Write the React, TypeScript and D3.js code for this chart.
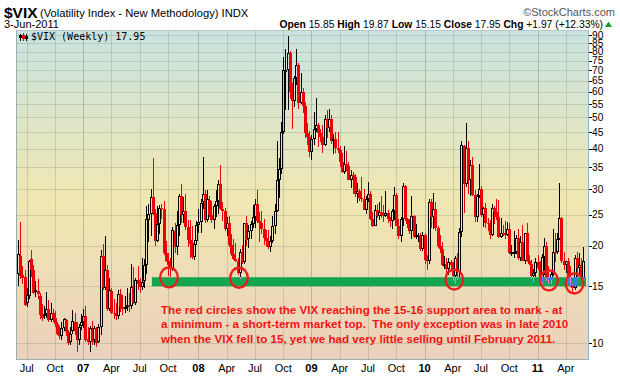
import React from "react";
import * as d3 from "d3";

// Weekly $VIX candles [open, high, low, close], one row per week (weeks start Monday 5-Jun-2006)
const firstWeekMonday = new Date(2006, 5, 5);

const ohlc2006 = [
  [16.4, 20.9, 15.0, 18.9], [18.6, 23.8, 15.8, 16.1], [16.2, 17.3, 15.3, 15.9], [16.0, 16.8, 13.0, 13.1],
  [13.3, 14.8, 12.9, 14.1], [14.0, 18.1, 13.7, 18.0], [18.2, 19.4, 16.0, 16.9], [16.8, 17.4, 14.2, 14.3],
  [14.4, 15.6, 13.9, 14.6], [14.5, 15.8, 13.7, 14.2], [14.0, 14.3, 11.9, 12.2], [12.3, 13.2, 11.7, 12.0],
  [12.1, 13.0, 11.9, 12.3], [12.3, 14.4, 12.0, 12.8], [12.8, 13.6, 11.6, 11.8], [11.8, 13.3, 11.6, 12.4],
  [12.4, 12.8, 11.6, 12.0], [12.0, 12.6, 11.2, 11.5], [11.5, 11.6, 10.6, 10.7], [10.8, 11.3, 10.3, 10.5],
  [10.5, 11.6, 10.2, 11.1], [11.1, 12.0, 10.9, 11.9], [11.8, 11.9, 10.5, 10.8], [10.8, 11.0, 9.9, 10.0],
  [10.1, 11.2, 9.9, 10.7], [10.9, 12.7, 10.7, 11.7], [11.6, 12.4, 10.6, 10.9], [10.9, 11.6, 9.4, 10.2],
  [10.2, 11.5, 9.9, 11.2], [11.3, 12.3, 11.0, 11.6],
];
const ohlc2007 = [
  [11.6, 12.8, 11.1, 12.1], [12.1, 13.0, 10.1, 10.2], [10.3, 11.2, 9.9, 10.1], [10.1, 11.3, 9.4, 11.1],
  [11.0, 11.7, 9.9, 10.1], [10.2, 11.3, 9.9, 11.1], [11.1, 11.2, 9.7, 10.0], [10.1, 11.5, 10.0, 11.2],
  [11.2, 19.4, 10.6, 18.6], [18.6, 20.3, 14.6, 14.9], [14.8, 21.4, 14.6, 16.8], [16.8, 17.4, 12.6, 12.8],
  [12.8, 15.9, 12.6, 14.6], [14.5, 14.8, 12.3, 12.4], [12.4, 13.7, 11.9, 12.3], [12.3, 13.3, 11.8, 12.1],
  [12.1, 14.6, 11.9, 14.2], [14.2, 14.7, 12.5, 12.9], [12.9, 14.1, 12.2, 12.8], [12.8, 14.0, 12.4, 12.9],
  [12.9, 14.8, 12.6, 13.1], [13.1, 14.3, 12.5, 13.0], [13.0, 17.6, 12.8, 14.9], [15.0, 17.2, 13.2, 13.3],
  [13.3, 15.9, 13.1, 15.7], [15.7, 17.3, 14.6, 15.2], [15.2, 15.9, 14.3, 14.9], [14.9, 18.3, 14.6, 15.5],
  [15.6, 18.2, 14.8, 17.5], [17.5, 26.5, 16.4, 24.2], [24.0, 26.9, 20.6, 25.2], [25.2, 30.0, 21.5, 28.3],
  [28.3, 37.5, 25.0, 25.3], [25.3, 26.0, 20.0, 20.7], [20.7, 26.5, 20.5, 23.4], [23.4, 26.7, 21.8, 26.2],
  [26.2, 27.0, 24.3, 26.0], [26.0, 27.5, 18.7, 19.0], [19.0, 20.7, 17.8, 18.0], [18.0, 19.0, 16.1, 17.5],
  [17.4, 18.3, 15.9, 17.0], [17.0, 22.9, 16.7, 22.4], [22.3, 23.5, 19.0, 19.9], [19.9, 25.7, 18.8, 23.2],
  [23.2, 29.0, 21.5, 28.5], [28.5, 31.1, 23.6, 24.9], [24.9, 28.3, 23.5, 25.6], [25.7, 29.0, 22.4, 22.9],
  [22.9, 24.0, 19.8, 20.9], [20.9, 24.1, 18.4, 20.3], [20.4, 23.0, 18.2, 18.5], [18.5, 20.9, 18.1, 20.3],
];
const ohlc2008 = [
  [20.7, 23.9, 20.2, 23.2], [23.2, 26.0, 22.0, 23.7], [23.7, 28.0, 22.0, 27.2], [27.3, 37.6, 26.0, 29.0],
  [29.0, 29.8, 23.5, 24.0], [24.0, 29.8, 23.8, 28.0], [27.8, 28.5, 24.5, 25.0], [25.0, 27.5, 23.5, 24.1],
  [24.0, 26.9, 22.6, 26.5], [26.5, 29.8, 24.5, 27.5], [27.5, 32.0, 25.2, 31.2], [31.2, 35.6, 25.8, 26.0],
  [26.0, 27.4, 23.9, 25.7], [25.7, 26.2, 22.3, 22.5], [22.5, 24.6, 21.5, 23.5], [23.5, 24.8, 19.9, 20.1],
  [20.1, 21.8, 18.6, 18.9], [18.9, 21.0, 18.1, 18.2], [18.2, 20.4, 17.8, 17.9], [17.9, 18.4, 16.3, 16.5],
  [16.5, 19.5, 15.8, 19.2], [19.2, 20.1, 17.6, 17.8], [17.8, 23.6, 17.6, 23.6], [23.6, 24.8, 20.0, 20.9],
  [21.0, 23.2, 19.7, 22.2], [22.3, 23.9, 21.0, 23.4], [23.4, 26.8, 22.7, 24.6], [24.6, 28.0, 22.7, 27.0],
  [27.0, 29.8, 23.5, 23.9], [23.9, 25.5, 20.5, 23.6], [23.6, 25.7, 21.8, 22.6], [22.6, 24.3, 20.2, 21.2],
  [21.2, 22.4, 19.9, 20.7], [20.7, 22.4, 19.6, 19.8], [19.8, 21.5, 19.1, 20.7], [20.7, 24.7, 20.4, 23.1],
  [23.1, 27.0, 21.8, 25.7], [25.7, 42.2, 25.4, 32.1], [32.1, 37.5, 28.2, 34.7], [34.7, 48.4, 33.3, 45.1],
  [45.1, 76.9, 44.5, 69.9], [69.9, 81.2, 52.7, 70.3], [70.3, 89.5, 52.9, 79.1], [79.0, 80.1, 57.1, 59.9],
  [59.9, 63.9, 46.2, 56.1], [56.1, 67.0, 53.9, 66.3], [66.3, 81.5, 63.1, 72.7], [72.7, 73.9, 53.1, 55.3],
  [55.3, 68.6, 55.0, 59.9], [59.9, 61.7, 51.6, 54.3], [54.3, 56.0, 43.1, 44.9], [44.9, 48.0, 41.1, 43.4],
];
const ohlc2009 = [
  [43.4, 45.5, 37.6, 39.2], [39.2, 44.0, 37.0, 42.8], [42.8, 52.0, 41.0, 46.1], [46.1, 57.4, 45.0, 47.3],
  [47.3, 47.9, 40.5, 44.8], [44.8, 46.2, 42.0, 43.4], [43.4, 47.5, 38.8, 41.2], [41.2, 51.0, 40.7, 49.3],
  [49.3, 52.7, 43.1, 46.4], [46.4, 53.3, 45.0, 49.3], [49.3, 51.0, 41.5, 42.4], [42.4, 44.5, 38.6, 43.0],
  [43.0, 45.0, 38.9, 40.2], [40.2, 45.2, 38.9, 39.7], [39.7, 40.9, 35.0, 36.5], [36.5, 38.7, 33.7, 33.9],
  [34.0, 40.8, 33.5, 35.8], [35.8, 39.3, 34.1, 35.3], [35.3, 36.5, 31.9, 32.1], [32.1, 34.3, 30.3, 33.1],
  [33.1, 33.9, 28.9, 32.6], [32.6, 33.5, 28.4, 28.9], [28.9, 31.3, 27.2, 29.6], [29.6, 30.1, 27.5, 28.2],
  [28.2, 32.6, 27.3, 27.9], [27.9, 30.1, 25.8, 25.9], [25.9, 28.5, 25.2, 27.9], [27.9, 31.5, 27.3, 29.0],
  [29.0, 29.5, 24.1, 24.3], [24.3, 25.5, 22.9, 23.1], [23.1, 26.7, 23.0, 25.9], [25.9, 27.0, 24.4, 24.8],
  [24.8, 27.3, 24.1, 25.4], [25.4, 28.6, 24.4, 25.0], [25.0, 26.7, 23.7, 24.8], [24.8, 29.6, 24.6, 25.3],
  [25.3, 25.8, 23.6, 24.2], [24.2, 24.6, 22.9, 23.9], [23.9, 26.0, 22.6, 25.6], [25.6, 30.4, 24.1, 28.7],
  [28.7, 29.2, 23.0, 23.1], [23.1, 24.2, 21.0, 21.4], [21.4, 24.6, 20.5, 24.2], [24.2, 31.3, 23.1, 30.7],
  [30.7, 30.9, 23.9, 24.2], [24.2, 24.4, 22.7, 23.4], [23.4, 24.3, 21.8, 22.2], [22.2, 28.6, 21.0, 24.7],
  [24.7, 24.9, 21.1, 21.3], [21.3, 23.4, 21.0, 21.6], [21.6, 22.0, 20.6, 21.7], [21.7, 21.9, 19.3, 19.5],
];
const ohlc2010 = [
  [19.5, 22.1, 19.3, 21.7], [21.7, 21.9, 17.6, 18.1], [18.1, 18.8, 16.9, 17.9], [17.9, 28.0, 17.6, 27.3],
  [27.3, 27.9, 22.7, 24.6], [24.6, 29.2, 22.6, 26.1], [26.1, 27.3, 22.2, 22.7], [22.7, 23.1, 19.7, 20.0],
  [20.0, 21.7, 19.0, 19.5], [19.5, 20.6, 17.3, 17.4], [17.4, 18.6, 17.0, 17.6], [17.6, 18.4, 16.4, 17.0],
  [17.0, 18.4, 16.3, 17.8], [17.8, 18.1, 16.8, 17.5], [17.5, 17.8, 15.6, 16.1], [16.1, 18.6, 15.2, 18.4],
  [18.4, 19.0, 15.7, 16.6], [16.6, 22.8, 16.0, 22.1], [22.1, 42.2, 21.3, 41.0], [40.9, 41.0, 25.3, 31.2],
  [31.2, 48.2, 30.4, 40.1], [40.1, 42.2, 29.0, 32.1], [32.1, 36.8, 28.6, 35.5], [35.5, 37.6, 28.6, 28.8],
  [28.8, 29.8, 23.7, 24.6], [24.6, 29.0, 23.8, 28.5], [28.5, 36.0, 28.2, 30.1], [30.1, 30.7, 24.6, 25.0],
  [25.0, 26.4, 22.9, 26.3], [26.3, 27.2, 22.7, 23.5], [23.5, 24.4, 22.3, 23.4], [23.4, 24.0, 21.0, 21.7],
  [21.7, 26.9, 21.4, 26.2], [26.2, 26.6, 23.4, 25.5], [25.5, 28.0, 24.1, 24.5], [24.5, 27.8, 21.2, 21.3],
  [21.3, 24.4, 21.1, 22.0], [22.0, 23.3, 21.5, 21.9], [21.9, 23.9, 21.0, 21.7], [21.7, 23.7, 21.4, 22.5],
  [22.5, 23.6, 18.9, 19.0], [19.0, 20.1, 18.6, 19.1], [19.1, 22.2, 18.4, 19.2], [19.2, 21.6, 18.9, 21.2],
  [21.2, 22.5, 18.1, 18.3], [18.3, 21.5, 17.9, 20.6], [20.6, 23.2, 18.0, 18.0], [18.0, 22.0, 17.6, 22.0],
  [22.0, 23.5, 17.8, 18.0], [18.0, 18.8, 17.4, 17.6], [17.6, 18.1, 15.8, 16.1], [16.1, 17.0, 15.5, 16.5],
  [16.5, 18.3, 15.9, 17.8],
];
const ohlc2011 = [
  [17.8, 18.8, 16.9, 17.1], [17.1, 17.9, 15.4, 15.5], [15.5, 18.9, 15.3, 18.5], [18.5, 21.1, 16.2, 20.0],
  [20.0, 20.5, 15.6, 15.9], [15.9, 17.3, 15.3, 15.7], [15.7, 16.9, 15.3, 16.4], [16.4, 22.6, 16.1, 19.2],
  [19.2, 21.9, 17.8, 19.1], [19.1, 22.0, 18.9, 21.0], [21.0, 31.3, 20.8, 24.4], [24.4, 24.5, 17.7, 17.9],
  [17.9, 19.1, 16.9, 17.4], [17.4, 18.0, 16.5, 17.9], [17.9, 18.3, 15.2, 15.3], [15.3, 17.3, 14.9, 15.1],
  [15.1, 15.3, 14.3, 14.8], [14.8, 18.8, 14.6, 18.4], [18.4, 19.2, 15.9, 17.1], [17.1, 19.0, 16.4, 17.4],
  [17.4, 18.3, 15.8, 16.0], [15.85, 19.87, 15.15, 17.95],
];

const yTicks = [10, 15, 20, 25, 30, 35, 40, 45, 50, 55, 60, 65, 70, 75, 80, 85, 90];
const monthNames = ["Jan", "Feb", "Mar", "Apr", "May", "Jun", "Jul", "Aug", "Sep", "Oct", "Nov", "Dec"];

// Annotations (bar index / VIX level)
const supportLevels = [15, 16];
const supportBars = [61.6, 261.3];
const circleBars = [69.46, 101.66, 200.69, 244.25, 255.98];
const circleLevels = [15.99, 15.94, 15.74, 15.65, 15.3];
const noteLines = [
  "The red circles show the VIX reaching the 15-16 support area to mark - at",
  "a minimum - a short-term market top.  The only exception was in late 2010",
  "when the VIX fell to 15, yet we had very little selling until February 2011.",
];

const W = 620;
const H = 376;
const PL = 16, PR = 588, PT = 30, PB = 359;
const SANS = "'Liberation Sans', Arial, Helvetica, sans-serif";
const RED = "#ee0008";

export default function App() {
  const rows = [...ohlc2006, ...ohlc2007, ...ohlc2008, ...ohlc2009, ...ohlc2010, ...ohlc2011];
  const bars = rows.map((d, i) => ({ i, o: d[0], h: d[1], l: d[2], c: d[3] }));
  const n = bars.length;

  const x = d3.scaleLinear().domain([0, n - 1]).range([18, 583.2]);
  const y = d3.scaleLog().domain([8.93, 93.3]).range([PB, PT]);

  const mondays = bars.map((_, i) => d3.timeDay.offset(firstWeekMonday, 7 * i));
  const qTicks: { i: number; label: string; year: boolean }[] = [];
  for (let i = 1; i < n; i++) {
    const m = mondays[i].getMonth();
    if (m !== mondays[i - 1].getMonth() && m % 3 === 0) {
      qTicks.push({
        i,
        label: m === 0 ? String(mondays[i].getFullYear()).slice(2) : monthNames[m],
        year: m === 0,
      });
    }
  }

  const bandTop = y(supportLevels[1]);
  const bandBot = y(supportLevels[0]);
  const bandX0 = x(supportBars[0]);
  const bandX1 = x(supportBars[1]);

  const last = bars[n - 1];

  return (
    <svg
      width={W}
      height={H}
      viewBox={`0 0 ${W} ${H}`}
      style={{ position: "absolute", left: 0, top: 0, display: "block", background: "#fff" }}
      fontFamily={SANS}
    >
      <defs>
        <linearGradient id="bg" x1="0" y1="0" x2="0" y2="1">
          <stop offset="0" stopColor="#c9e3e1" />
          <stop offset="0.3" stopColor="#e0e6c6" />
          <stop offset="0.52" stopColor="#f0e7b1" />
          <stop offset="0.75" stopColor="#eedcb6" />
          <stop offset="1" stopColor="#ebd1bd" />
        </linearGradient>
        <clipPath id="plot">
          <rect x={PL} y={PT} width={PR - PL} height={PB - PT} />
        </clipPath>
      </defs>

      {/* header */}
      <text x={4} y={18} fontSize={15.5} fontWeight="bold" fill="#000">$VIX</text>
      <text x={40} y={17} fontSize={11.2} fill="#000">(Volatility Index - New Methodology) INDX</text>
      <text x={615} y={16} fontSize={11} fill="#555" textAnchor="end">©StockCharts.com</text>
      <text x={4} y={28} fontSize={11} fill="#000">3-Jun-2011</text>
      <text x={603} y={28} fontSize={10.3} fill="#000" textAnchor="end" style={{ whiteSpace: "pre" }}>
        <tspan fontWeight="bold">Open</tspan> {last.o.toFixed(2)} <tspan fontWeight="bold">High</tspan>{" "}
        {last.h.toFixed(2)} <tspan fontWeight="bold">Low</tspan> {last.l.toFixed(2)}{" "}
        <tspan fontWeight="bold">Close</tspan> {last.c.toFixed(2)} <tspan fontWeight="bold">Chg</tspan> +1.97 (+12.33%)
      </text>
      <path d="M605,27 L612,27 L608.5,21.5 Z" fill="#1a9a2a" />

      {/* plot background */}
      <rect x={PL} y={PT} width={PR - PL} height={PB - PT} fill="url(#bg)" />

      {/* grid */}
      <g clipPath="url(#plot)" shapeRendering="crispEdges">
        {yTicks.map((t) => (
          <line key={"h" + t} x1={PL} x2={PR} y1={Math.round(y(t)) + 0.5} y2={Math.round(y(t)) + 0.5}
            stroke="#7d8f6c" strokeOpacity={0.3} />
        ))}
        {qTicks.map((t) => (
          <line key={"v" + t.i} x1={Math.round(x(t.i)) + 0.5} x2={Math.round(x(t.i)) + 0.5} y1={PT} y2={PB}
            stroke="#7d8f6c" strokeOpacity={t.year ? 0.45 : 0.3} />
        ))}
      </g>

      {/* support band */}
      <rect x={bandX0} y={bandTop} width={bandX1 - bandX0} height={bandBot - bandTop} fill="#15a54f" />

      {/* candles */}
      <g clipPath="url(#plot)" shapeRendering="crispEdges">
        {bars.map((b, k) => {
          const prev = k > 0 ? bars[k - 1].c : b.o;
          const col = b.c >= prev ? "#000" : RED;
          const px = Math.round(x(b.i));
          const yH = y(b.h), yL = y(b.l);
          const top = Math.min(y(b.o), y(b.c));
          const bot = Math.max(y(b.o), y(b.c));
          const bh = Math.max(1, bot - top);
          const hollow = b.c > b.o;
          const inBand = px >= bandX0 && px <= bandX1;
          const ov = (a: number, z: number) => [Math.max(a, bandTop), Math.min(z, bandBot)];
          const bodyOv = ov(top, top + bh);
          const wickUp = ov(yH, top);
          const wickLo = ov(top + bh, yL);
          return (
            <g key={k}>
              <rect x={px} y={yH} width={1} height={Math.max(0, top - yH)} fill={col} />
              <rect x={px} y={top + bh} width={1} height={Math.max(0, yL - top - bh)} fill={col} />
              {hollow ? (
                <rect x={px - 0.5} y={top + 0.5} width={2} height={Math.max(1, bh - 1)} fill="none" stroke={col} />
              ) : (
                <rect x={px - 1} y={top} width={3} height={bh} fill={col} />
              )}
              {inBand && bodyOv[1] > bodyOv[0] && (
                <rect x={px - 1} y={bodyOv[0]} width={3} height={bodyOv[1] - bodyOv[0]} fill="#3d7cf0" />
              )}
              {inBand && wickUp[1] > wickUp[0] && (
                <rect x={px} y={wickUp[0]} width={1} height={wickUp[1] - wickUp[0]} fill="#f27cf0" />
              )}
              {inBand && wickLo[1] > wickLo[0] && (
                <rect x={px} y={wickLo[0]} width={1} height={wickLo[1] - wickLo[0]} fill="#f27cf0" />
              )}
            </g>
          );
        })}
      </g>

      {/* red circles */}
      {circleBars.map((cb, k) => (
        <ellipse key={"c" + k} cx={x(cb)} cy={y(circleLevels[k])} rx={8.8} ry={10}
          fill="none" stroke="#ee1c1c" strokeWidth={2.3} />
      ))}

      {/* note */}
      {noteLines.map((s, k) => (
        <text key={"n" + k} x={161} y={314 + k * 14.3} fontSize={11.6} fontWeight="bold" fill="#f01414"
          style={{ whiteSpace: "pre" }}>{s}</text>
      ))}

      {/* legend */}
      <g shapeRendering="crispEdges">
        <rect x={20} y={34} width={1} height={7} fill="#000" />
        <rect x={19} y={35} width={3} height={3} fill="#000" />
        <rect x={23} y={33} width={1} height={8} fill={RED} />
        <rect x={22} y={35} width={3} height={4} fill={RED} />
        <rect x={26} y={34} width={1} height={7} fill="#000" />
        <rect x={25} y={36} width={3} height={3} fill="#000" />
      </g>
      <text x={31} y={40} fontSize={10} fontFamily="'DejaVu Sans Mono', monospace" fill="#000">
        $VIX (Weekly) {last.c.toFixed(2)}
      </text>

      {/* frame */}
      <g shapeRendering="crispEdges" fill="none">
        <line x1={PL + 0.5} x2={PL + 0.5} y1={PT} y2={PB} stroke="#9ab0b0" />
        <line x1={PL} x2={PR} y1={PT + 0.5} y2={PT + 0.5} stroke="#b8c8c8" />
        <line x1={PL} x2={PR + 1} y1={PB + 0.5} y2={PB + 0.5} stroke="#9ab0b0" />
        <line x1={PR + 0.5} x2={PR + 0.5} y1={PT} y2={PB + 1} stroke="#8fb4bf" />
      </g>

      {/* right axis */}
      {yTicks.map((t) => (
        <g key={"yt" + t}>
          <line x1={PR + 1} x2={PR + 4} y1={Math.round(y(t)) + 0.5} y2={Math.round(y(t)) + 0.5} stroke="#000"
            shapeRendering="crispEdges" />
          <text x={PR + 4} y={y(t) + 3.5} fontSize={10.2} fill="#000">{t}</text>
        </g>
      ))}

      {/* bottom axis */}
      {qTicks.map((t) => (
        <text key={"xt" + t.i} x={x(t.i)} y={372} fontSize={11} textAnchor="middle"
          fontWeight={t.year ? "bold" : "normal"} fill="#000">{t.label}</text>
      ))}
    </svg>
  );
}
